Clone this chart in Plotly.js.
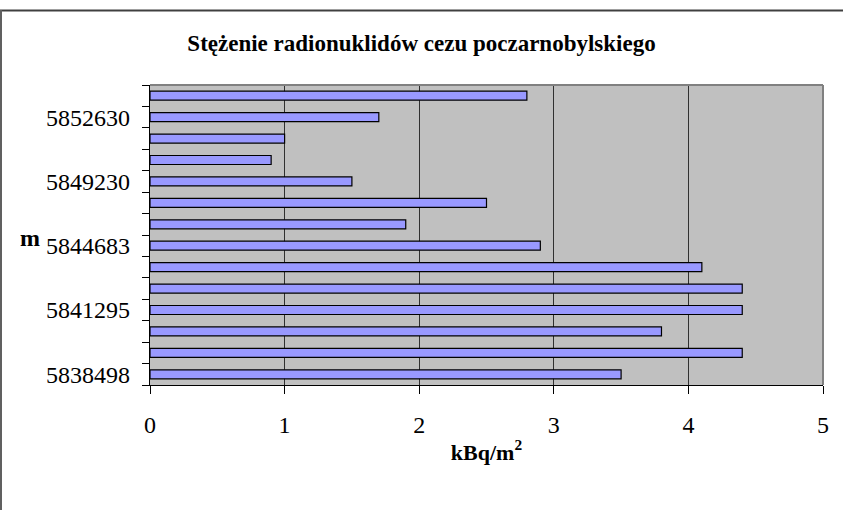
<!DOCTYPE html>
<html>
<head>
<meta charset="utf-8">
<script src="https://cdn.plot.ly/plotly-3.0.1.min.js"></script>
<style>
  html, body { margin: 0; padding: 0; background: #fff; }
  #chart { width: 843px; height: 510px; }
</style>
</head>
<body>
<div id="chart"></div>
<script>
// Categories (m), listed bottom to top; unlabeled ones are estimates
var categories = ['5838498', '5839430', '5840360', '5841295', '5842420', '5843550', '5844683',
                  '5846200', '5847720', '5849230', '5850360', '5851500', '5852630', '5853760'];
// Concentration in kBq/m2, bottom to top
var values = [3.5, 4.4, 3.8, 4.4, 4.4, 4.1, 2.9, 1.9, 2.5, 1.5, 0.9, 1.0, 1.7, 2.8];
// Labels shown on the category axis
var shownLabels = ['5838498', '5841295', '5844683', '5849230', '5852630'];
var xTicks = [0, 1, 2, 3, 4, 5];

var serif = 'Liberation Serif, Times New Roman, serif';

var traces = [
  {
    type: 'bar', orientation: 'h',
    x: values, y: categories,
    marker: { color: '#9999FF', line: { color: '#000000', width: 1.2 } },
    hoverinfo: 'x+y',
    xaxis: 'x', yaxis: 'y'
  },
  {
    type: 'bar', orientation: 'h',
    x: values, y: categories,
    marker: { color: 'rgba(0,0,0,0)' },
    hoverinfo: 'skip', showlegend: false,
    xaxis: 'x', yaxis: 'y2'
  }
];

var layout = {
  width: 843, height: 510,
  margin: { l: 150, r: 20, t: 85, b: 125 },
  paper_bgcolor: '#ffffff',
  plot_bgcolor: '#C0C0C0',
  showlegend: false,
  bargap: 0.58,
  font: { family: serif, color: '#000000' },
  title: {
    text: '<b>Stężenie radionuklidów cezu poczarnobylskiego</b>',
    font: { family: serif, size: 23, color: '#000' },
    x: 0.5, xanchor: 'center', xref: 'container',
    y: 1 - 43 / 510, yanchor: 'middle', yref: 'container'
  },
  xaxis: {
    range: [0, 5],
    tickvals: xTicks,
    ticks: 'outside', ticklen: 8, tickcolor: '#000', tickwidth: 1,
    showline: true, linecolor: '#000', linewidth: 1,
    showgrid: true, gridcolor: '#303030', gridwidth: 1,
    zeroline: false,
    tickfont: { family: serif, size: 24, color: '#000' },
    ticklabelstandoff: 10,
    title: {
      text: '<b>kBq/m<sup>2</sup></b>',
      font: { family: serif, size: 22, color: '#000' },
      standoff: 7
    },
    fixedrange: true
  },
  yaxis: {
    type: 'category',
    categoryorder: 'array', categoryarray: categories,
    range: [-0.5, categories.length - 0.5],
    tickson: 'boundaries',
    ticks: 'outside', ticklen: 7, tickcolor: '#000', tickwidth: 1,
    showticklabels: false,
    showgrid: false,
    showline: true, linecolor: '#000', linewidth: 1,
    fixedrange: true
  },
  yaxis2: {
    type: 'category',
    overlaying: 'y', side: 'left',
    categoryorder: 'array', categoryarray: categories,
    range: [-0.5, categories.length - 0.5],
    tickmode: 'array', tickvals: shownLabels, ticktext: shownLabels,
    ticks: '', showgrid: false, showline: false,
    tickfont: { family: serif, size: 24, color: '#000' },
    ticklabelstandoff: 19,
    fixedrange: true
  },
  annotations: [
    {
      text: '<b>m</b>', xref: 'paper', yref: 'paper',
      x: -0.178, y: 0.49, xanchor: 'center', yanchor: 'middle',
      showarrow: false, font: { family: serif, size: 24, color: '#000' }
    }
  ],
  shapes: [
    { type: 'line', xref: 'paper', yref: 'paper', x0: 0, x1: 1, y0: 1, y1: 1,
      line: { color: '#808080', width: 2 }, layer: 'above' },
    { type: 'line', xref: 'paper', yref: 'paper', x0: 1, x1: 1, y0: 0, y1: 1,
      line: { color: '#808080', width: 2 }, layer: 'above' }
  ]
};

Plotly.newPlot('chart', traces, layout, { displayModeBar: false, staticPlot: true }).then(function () {
  // outer chart border: top and left edges
  var svg = document.querySelector('#chart .main-svg');
  var ns = 'http://www.w3.org/2000/svg';
  var l1 = document.createElementNS(ns, 'line');
  l1.setAttribute('x1', 0); l1.setAttribute('x2', 843);
  l1.setAttribute('y1', 10.5); l1.setAttribute('y2', 10.5);
  l1.setAttribute('stroke', '#404040'); l1.setAttribute('stroke-width', 2);
  var l2 = document.createElementNS(ns, 'line');
  l2.setAttribute('x1', 1); l2.setAttribute('x2', 1);
  l2.setAttribute('y1', 10); l2.setAttribute('y2', 510);
  l2.setAttribute('stroke', '#606060'); l2.setAttribute('stroke-width', 2);
  svg.appendChild(l1); svg.appendChild(l2);
});
</script>
</body>
</html>
